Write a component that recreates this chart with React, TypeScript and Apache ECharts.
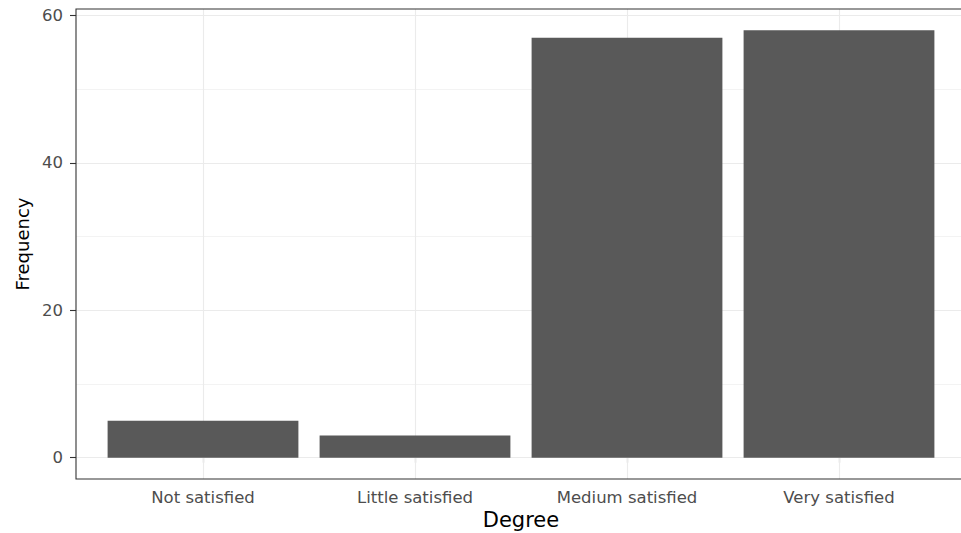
import React, { useEffect, useRef } from "react";
import * as echarts from "echarts";

const categories = ["Not satisfied", "Little satisfied", "Medium satisfied", "Very satisfied"];
const frequencies = [5, 3, 57, 58];
const yTicks = [0, 20, 40, 60];
const yMinorTicks = [10, 30, 50];

export default function App() {
  const ref = useRef<HTMLDivElement>(null);
  useEffect(() => {
    if (!ref.current) return;
    const chart = echarts.init(ref.current, undefined, { renderer: "svg" });
    const font = "DejaVu Sans";
    const hMarks = [
      ...yMinorTicks.map((v) => ({ yAxis: v, lineStyle: { color: "#EBEBEB", width: 0.6, type: "solid" as const } })),
      ...yTicks.map((v) => ({ yAxis: v, lineStyle: { color: "#EBEBEB", width: 1.1, type: "solid" as const } })),
    ];
    const vMarks = categories.map((c) => ({ xAxis: c, lineStyle: { color: "#EBEBEB", width: 1.1, type: "solid" as const } }));
    chart.setOption({
      animation: false,
      backgroundColor: "#ffffff",
      grid: [
        {
          left: 76,
          top: 9,
          width: 890,
          height: 470,
          show: true,
          borderColor: "#333333",
          borderWidth: 1.1,
          backgroundColor: "transparent",
          z: 4,
          outerBoundsMode: "none",
          containLabel: false,
        },
        {
          left: 97,
          top: 9,
          width: 848,
          height: 470,
          outerBoundsMode: "none",
          containLabel: false,
        },
      ],
      xAxis: [
        {
          gridIndex: 0,
          type: "value",
          min: 0,
          max: 1,
          show: false,
        },
        {
          gridIndex: 1,
          type: "category",
          data: categories,
          name: "Degree",
          nameLocation: "middle",
          nameGap: 30,
          nameMoveOverlap: false,
          nameTextStyle: { color: "#000000", fontSize: 21, fontFamily: font },
          axisLine: { show: false },
          axisTick: { show: true, alignWithLabel: true, length: 5, lineStyle: { color: "#333333", width: 1.1 } },
          axisLabel: { color: "#4D4D4D", fontSize: 16.5, fontFamily: font, margin: 10, interval: 0 },
          splitLine: { show: false },
        },
      ],
      yAxis: [
        {
          gridIndex: 0,
          type: "value",
          min: -2.9,
          max: 60.9,
          show: false,
        },
        {
          gridIndex: 1,
          type: "value",
          min: -2.9,
          max: 60.9,
          offset: 21,
          name: "Frequency",
          nameLocation: "middle",
          nameGap: 45,
          nameMoveOverlap: false,
          nameTextStyle: { color: "#000000", fontSize: 18, fontFamily: font },
          axisLine: { show: false },
          axisTick: { show: true, length: 6, customValues: yTicks, lineStyle: { color: "#333333", width: 1.1 } },
          axisLabel: { color: "#4D4D4D", fontSize: 16.5, fontFamily: font, margin: 13, customValues: yTicks },
          splitLine: { show: false },
        },
      ],
      series: [
        {
          type: "line",
          xAxisIndex: 0,
          yAxisIndex: 0,
          data: [],
          z: 1,
          silent: true,
          markLine: {
            z: 1,
            silent: true,
            symbol: ["none", "none"],
            label: { show: false },
            data: hMarks,
          },
        },
        {
          type: "line",
          xAxisIndex: 1,
          yAxisIndex: 1,
          data: [],
          z: 1,
          silent: true,
          markLine: {
            z: 1,
            silent: true,
            symbol: ["none", "none"],
            label: { show: false },
            data: vMarks,
          },
        },
        {
          type: "bar",
          xAxisIndex: 1,
          yAxisIndex: 1,
          data: frequencies,
          z: 3,
          barCategoryGap: "10%",
          itemStyle: { color: "#595959" },
        },
      ],
    });
    return () => chart.dispose();
  }, []);
  return (
    <div
      ref={ref}
      style={{ position: "fixed", left: 0, top: 0, width: 961, height: 533, background: "#ffffff" }}
    />
  );
}
